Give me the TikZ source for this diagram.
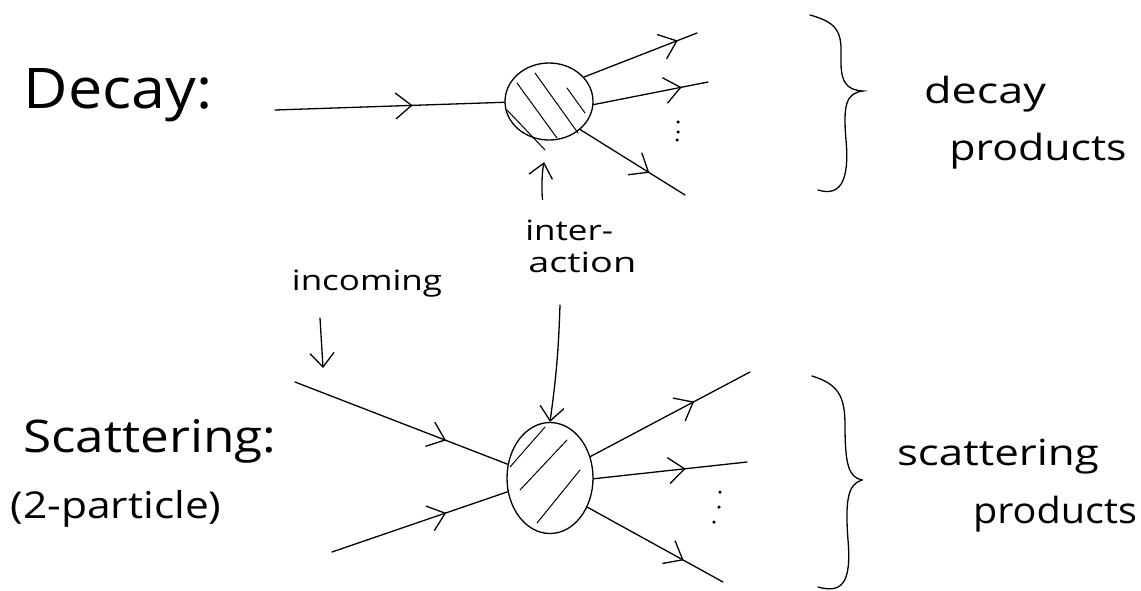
\documentclass[tikz,border=0pt]{standalone}
\usepackage{fontspec}
\setmainfont{Open Sans}
\usetikzlibrary{shapes.geometric,arrows.meta,decorations.markings}
\tikzset{
  ln/.style={line width=1.3pt,line cap=round},
  blob/.style={ellipse,draw,line width=1.3pt,inner sep=0pt},
  hatch/.style={line width=1pt,line cap=round},
  barb/.tip={Straight Barb[length=16pt,width=26pt,line width=1.3pt]},
  flowmark/.style={postaction={decorate},decoration={markings,mark=at position #1 with {\arrow{barb}}}},
  ptr/.style={ln,-{Straight Barb[length=14pt,width=24pt,line width=1.3pt]}},
  txt/.style={inner sep=0pt,anchor=base,transform shape},
  bigtxt/.style={txt,font=\fontsize{56}{60}\selectfont},
  midtxt/.style={txt,font=\fontsize{45}{50}\selectfont},
  smalltxt/.style={txt,font=\fontsize{36}{40}\selectfont},
  tinytxt/.style={txt,font=\fontsize{28}{32}\selectfont},
  curly/.style={line width=1.3pt,line cap=round},
  dot/.style={fill,circle,inner sep=0pt,minimum size=3.5pt}
}
\begin{document}
\begin{tikzpicture}[x=1pt,y=-1pt]
\useasboundingbox (0,0) rectangle (1141,590);

% ---------- decay ----------
\node[bigtxt,xscale=1.09] (decay) at (118,108) {Decay:};
\node[blob,minimum width=88,minimum height=77] (d) at (549,101.5) {};
\draw[hatch] (517,83) -- (557,138);
\draw[hatch] (535,73) -- (578,133);
\draw[hatch] (567,88) -- (585,113);
\draw[hatch] (507,110) -- (545,150);
\coordinate (din) at (275,110);
\coordinate (dout1) at (697,33);
\coordinate (dout2) at (708,82);
\coordinate (dout3) at (685,195);
\draw[ln,flowmark=0.6] (din) -- (d.181);
\draw[ln,flowmark=0.83] (d.35) -- (dout1);
\draw[ln,flowmark=0.77] (d.-4) -- (dout2);
\draw[ln,flowmark=0.66] (d.-42) -- (dout3);
\node[dot] (dd1) at (678,122) {};
\node[dot] (dd2) at (678,132) {};
\node[dot] (dd3) at (677,140) {};

\node[tinytxt,anchor=base west,xscale=1.25] (inter) at (525,240) {inter-};
\node[tinytxt,anchor=base west,xscale=1.35] (action) at (528,272) {action};
\draw[ptr,shorten <=20pt,shorten >=22pt] (inter.north west) ++(20,0) coordinate (ia) to[bend left=10] (d.south);

\draw[curly] (810,15) .. controls (835,22) and (842,30) .. (841,55)
  .. controls (840,82) and (846,90) .. (863,91)
  .. controls (846,93) and (843,105) .. (846,140)
  .. controls (850,185) and (838,196) .. (818,190);
\node[smalltxt,xscale=1.25] (dprod1) at (985,103) {decay};
\node[smalltxt,xscale=1.19] (dprod2) at (1038,160) {products};

% ---------- scattering ----------
\node[midtxt,xscale=1.14] (scat) at (150,452) {Scattering:};
\node[smalltxt,font=\fontsize{37}{40}\selectfont,xscale=1.15] (twop) at (116,518) {(2-particle)};
\node[blob,minimum width=86,minimum height=111] (s) at (550,478) {};
\draw[hatch] (510,467) -- (545,427);
\draw[hatch] (520,490) -- (567,440);
\draw[hatch] (537,523) -- (580,470);
\coordinate (sin1) at (295,382);
\coordinate (sin2) at (332,552);
\coordinate (sout1) at (750,372);
\coordinate (sout2) at (747,462);
\coordinate (sout3) at (723,582);
\draw[ln,flowmark=0.71] (sin1) -- (s.162);
\draw[ln,flowmark=0.65] (sin2) -- (s.198);
\draw[ln,flowmark=0.65] (s.28) -- (sout1);
\draw[ln,flowmark=0.6] (s.-1) -- (sout2);
\draw[ln,flowmark=0.71] (s.-38) -- (sout3);
\node[dot] (sd1) at (720,492) {};
\node[dot] (sd2) at (719,507) {};
\node[dot] (sd3) at (714,522) {};

\node[tinytxt,xscale=1.25] (inc) at (367,290) {incoming};
\coordinate (inctop) at (320,318);
\coordinate (incend) at (323,368);
\draw[ptr] (inctop) -- (incend);
\coordinate (acttop) at (560,305);
\draw[ptr] (acttop) to[bend left=3] (s.north) ;

\draw[curly] (812,376) .. controls (838,384) and (845,396) .. (845,425)
  .. controls (845,466) and (849,477) .. (862,480)
  .. controls (848,484) and (845,500) .. (848,540)
  .. controls (852,586) and (840,593) .. (818,587);
\node[smalltxt,xscale=1.22] (sprod1) at (998,465) {scattering};
\node[smalltxt,xscale=1.1] (sprod2) at (1055,523) {products};
\end{tikzpicture}
\end{document}
